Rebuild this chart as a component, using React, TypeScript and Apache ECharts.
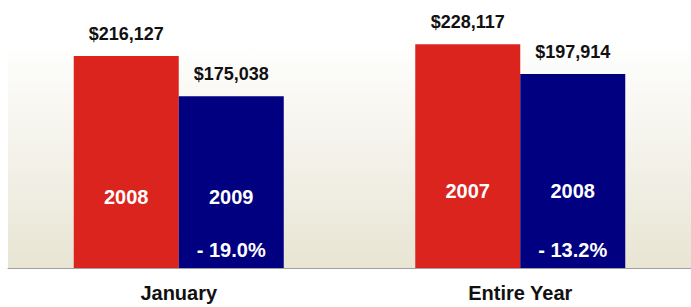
import React, { useEffect, useRef } from "react";
import * as echarts from "echarts";

const categories = ["January", "Entire Year"];
const firstValues = [216127, 228117];
const secondValues = [175038, 197914];
const firstYears = ["2008", "2007"];
const secondYears = ["2009", "2008"];
const changeLabels = ["- 19.0%", "- 13.2%"];

const FONT = "'Liberation Sans', Arial, Helvetica, sans-serif";
const RED = "#dc241f";
const NAVY = "#000080";

export default function App() {
  const ref = useRef<HTMLDivElement>(null);
  useEffect(() => {
    document.body.style.margin = "0";
    if (!ref.current) return;
    const chart = echarts.init(ref.current, null, { renderer: "svg" });
    const money = (v: number) => "$" + v.toLocaleString("en-US");
    const yearOffsets = [-71, -77];
    const inLabel = {
      show: true,
      position: "inside",
      color: "#ffffff",
      fontSize: 20,
      fontWeight: "bold",
      fontFamily: FONT,
    };
    const yearMarks = (years: string[]) =>
      years.map((y, i) => ({
        coord: [categories[i], 0],
        label: { ...inLabel, formatter: y, offset: [0, yearOffsets[i]] },
      }));
    const pctMarks = changeLabels.map((p, i) => ({
      coord: [categories[i], 0],
      label: { ...inLabel, formatter: p, offset: [0, -18] },
    }));
    const topLabel = {
      show: true,
      position: "top",
      distance: 13,
      color: "#111111",
      fontSize: 18,
      fontWeight: "bold",
      fontFamily: FONT,
      formatter: (p: any) => money(p.value),
    };
    const markBase = {
      symbol: "rect",
      symbolSize: 1,
      itemStyle: { color: "rgba(0,0,0,0)" },
      silent: true,
    };
    chart.setOption({
      animation: false,
      grid: {
        left: 8,
        right: 0,
        top: 40,
        bottom: 39,
        show: true,
        borderWidth: 0,
        backgroundColor: new echarts.graphic.LinearGradient(0, 0, 0, 1, [
          { offset: 0, color: "#ffffff" },
          { offset: 1, color: "#e8e5d4" },
        ]),
      },
      xAxis: {
        type: "category",
        data: categories,
        axisLine: { lineStyle: { color: "#a0a0a0", width: 1 } },
        axisTick: { length: 7, lineStyle: { color: "#a0a0a0" } },
        axisLabel: {
          color: "#111111",
          fontSize: 20,
          fontWeight: "bold",
          fontFamily: FONT,
          margin: 15,
        },
      },
      yAxis: {
        type: "value",
        min: 0,
        max: 232500,
        show: false,
        splitLine: { show: false },
      },
      series: [
        {
          type: "bar",
          data: firstValues,
          barWidth: 105,
          barGap: "0%",
          itemStyle: { color: RED },
          label: topLabel,
          markPoint: { ...markBase, data: yearMarks(firstYears) },
        },
        {
          type: "bar",
          data: secondValues,
          barWidth: 105,
          barGap: "0%",
          itemStyle: { color: NAVY },
          label: topLabel,
          markPoint: {
            ...markBase,
            data: [...yearMarks(secondYears), ...pctMarks],
          },
        },
      ],
    });
    return () => chart.dispose();
  }, []);
  return <div ref={ref} style={{ width: 691, height: 307 }} />;
}
